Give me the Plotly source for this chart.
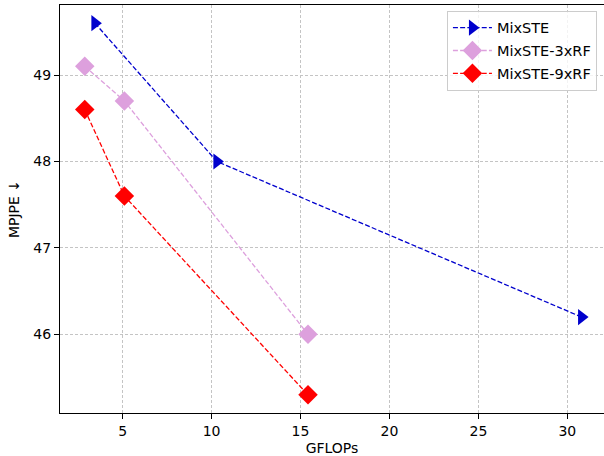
import plotly.graph_objects as go

# Data
series_names = ["MixSTE", "MixSTE-3xRF", "MixSTE-9xRF"]
mixste_gflops = [3.44, 10.3, 30.8]
mixste_mpjpe = [49.6, 48.0, 46.2]
rf3_gflops = [2.87, 5.1, 15.42]
rf3_mpjpe = [49.1, 48.7, 46.0]
rf9_gflops = [2.87, 5.1, 15.42]
rf9_mpjpe = [48.6, 47.6, 45.3]
x_ticks = [5, 10, 15, 20, 25, 30]
y_ticks = [46, 47, 48, 49]

FONT = "DejaVu Sans"

fig = go.Figure()
styles = [
    (mixste_gflops, mixste_mpjpe, "#0000cd", "triangle-right", 14),
    (rf3_gflops, rf3_mpjpe, "#dda0dd", "diamond", 15),
    (rf9_gflops, rf9_mpjpe, "#ff0000", "diamond", 15),
]
for name, (xs, ys, col, sym, sz) in zip(series_names, styles):
    fig.add_trace(go.Scatter(
        x=xs, y=ys, name=name, mode="lines+markers",
        legendgroup=name,
        line=dict(color=col, width=1.3, dash="5px,2.2px"),
        marker=dict(color=col, symbol=sym, size=sz, line=dict(width=0)),
    ))

axis_common = dict(
    showgrid=True, gridcolor="#c4c4c4", gridwidth=0.9, griddash="3px,2px",
    zeroline=False, showline=True, linecolor="black", linewidth=1.1,
    ticks="outside", ticklen=5, tickwidth=1.1, tickcolor="black",
    tickfont=dict(family=FONT, size=14, color="black"),
)

fig.update_layout(
    width=604, height=456,
    margin=dict(l=60, r=0, t=5, b=43),
    plot_bgcolor="white", paper_bgcolor="white",
    font=dict(family=FONT, size=14, color="black"),
    xaxis=dict(range=[1.48, 32.06], tickvals=x_ticks, mirror=True,
               title=dict(text="GFLOPs", font=dict(family=FONT, size=14, color="black"), standoff=6),
               **axis_common),
    yaxis=dict(range=[45.09, 49.81], tickvals=y_ticks, mirror=False,
               title=dict(text="MPJPE ↓", font=dict(family=FONT, size=14, color="black"), standoff=10),
               **axis_common),
    legend=dict(
        x=0.987, y=0.986, xanchor="right", yanchor="top",
        bgcolor="rgba(255,255,255,0.8)", bordercolor="#cccccc", borderwidth=1,
        font=dict(family=FONT, size=14.5, color="black"),
        tracegroupgap=1, itemwidth=39,
    ),
    showlegend=True,
)

fig.write_html(
    "out.html",
    config={"displayModeBar": False},
    post_script="document.body.style.margin='0';document.body.style.overflow='hidden';",
)
